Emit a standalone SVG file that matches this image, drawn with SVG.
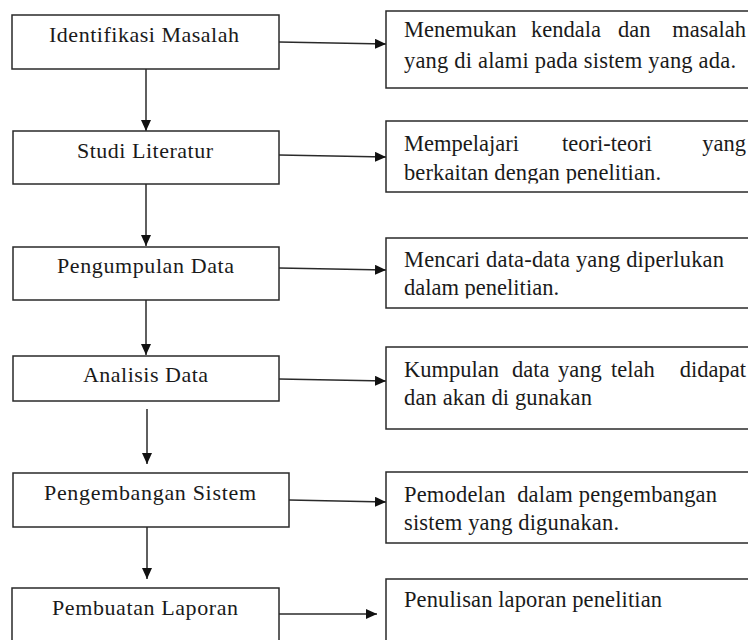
<svg xmlns="http://www.w3.org/2000/svg" width="748" height="640" viewBox="0 0 748 640">
<style>
.box{fill:#fff;stroke:#2a2a2a;stroke-width:1.5}
.ln{stroke:#2a2a2a;stroke-width:1.5;fill:none;marker-end:url(#ah)}
</style>
<defs>
<marker id="ah" markerUnits="userSpaceOnUse" markerWidth="11" markerHeight="10" refX="11" refY="5" orient="auto">
<path d="M0,0 L11,5 L0,10 z" fill="#111"/>
</marker>
<clipPath id="clip2"><rect x="386" y="121" width="362" height="62.5"/></clipPath>
<clipPath id="clip3"><rect x="386" y="238" width="362" height="60.5"/></clipPath>
</defs>
<rect width="748" height="640" fill="#fff"/>

<g id="connectors">
<line class="ln" x1="146" y1="69" x2="146" y2="131"/>
<line class="ln" x1="146" y1="184" x2="146" y2="246"/>
<line class="ln" x1="146" y1="300" x2="146" y2="355"/>
<line class="ln" x1="147" y1="409" x2="147" y2="464"/>
<line class="ln" x1="147" y1="525" x2="147" y2="579"/>
<line class="ln" x1="279" y1="42" x2="386" y2="44"/>
<line class="ln" x1="279" y1="155" x2="386" y2="157"/>
<line class="ln" x1="279" y1="268" x2="386" y2="270"/>
<line class="ln" x1="279" y1="379" x2="386" y2="381"/>
<line class="ln" x1="289" y1="500" x2="386" y2="502"/>
<line class="ln" x1="279" y1="614" x2="377" y2="614"/>
</g>

<g id="n1">
<rect class="box" x="12" y="15" width="267" height="54"/>
<text x="144" y="42" font-family="Liberation Serif" font-size="22" fill="#1a1a1a" text-anchor="middle" textLength="190" lengthAdjust="spacing">Identifikasi Masalah</text>
</g>
<g id="n2">
<rect class="box" x="13" y="131" width="266" height="53"/>
<text x="145" y="158" font-family="Liberation Serif" font-size="22" fill="#1a1a1a" text-anchor="middle" textLength="136" lengthAdjust="spacing">Studi Literatur</text>
</g>
<g id="n3">
<rect class="box" x="13" y="247" width="266" height="53"/>
<text x="145.5" y="273" font-family="Liberation Serif" font-size="22" fill="#1a1a1a" text-anchor="middle" textLength="177" lengthAdjust="spacing">Pengumpulan Data</text>
</g>
<g id="n4">
<rect class="box" x="13" y="356" width="266" height="45"/>
<text x="145.5" y="382" font-family="Liberation Serif" font-size="22" fill="#1a1a1a" text-anchor="middle" textLength="125" lengthAdjust="spacing">Analisis Data</text>
</g>
<g id="n5">
<rect class="box" x="13" y="473" width="276" height="54"/>
<text x="150" y="500" font-family="Liberation Serif" font-size="22" fill="#1a1a1a" text-anchor="middle" textLength="212" lengthAdjust="spacing">Pengembangan Sistem</text>
</g>
<g id="n6">
<rect class="box" x="12" y="588" width="267" height="70"/>
<text x="145" y="615" font-family="Liberation Serif" font-size="22" fill="#1a1a1a" text-anchor="middle" textLength="186" lengthAdjust="spacing">Pembuatan Laporan</text>
</g>

<g id="d1">
<rect class="box" x="386" y="11" width="380" height="77"/>
<text y="37" font-family="Liberation Serif" font-size="22.5" fill="#1a1a1a"><tspan x="404">Menemukan</tspan><tspan x="531">kendala</tspan><tspan x="618">dan</tspan></text>
<text x="746" y="37" font-family="Liberation Serif" font-size="22.5" fill="#1a1a1a" text-anchor="end">masalah</text>
<text x="404" y="68" font-family="Liberation Serif" font-size="22.5" fill="#1a1a1a" textLength="332" lengthAdjust="spacing">yang di alami pada sistem yang ada.</text>
</g>
<g id="d2">
<rect class="box" x="386" y="121" width="380" height="71"/>
<g clip-path="url(#clip2)">
<text y="151" font-family="Liberation Serif" font-size="22.5" fill="#1a1a1a"><tspan x="404">Mempelajari</tspan><tspan x="562">teori-teori</tspan></text>
<text x="746" y="151" font-family="Liberation Serif" font-size="22.5" fill="#1a1a1a" text-anchor="end">yang</text>
<text x="404" y="180" font-family="Liberation Serif" font-size="22.5" fill="#1a1a1a" textLength="257" lengthAdjust="spacing">berkaitan dengan penelitian.</text>
</g>
</g>
<g id="d3">
<rect class="box" x="386" y="238" width="380" height="70"/>
<g clip-path="url(#clip3)">
<text x="404" y="267" font-family="Liberation Serif" font-size="22.5" fill="#1a1a1a" textLength="320" lengthAdjust="spacing">Mencari data-data yang diperlukan</text>
<text x="404" y="295" font-family="Liberation Serif" font-size="22.5" fill="#1a1a1a" textLength="155" lengthAdjust="spacing">dalam penelitian.</text>
</g>
</g>
<g id="d4">
<rect class="box" x="386" y="347" width="380" height="82"/>
<text y="377" font-family="Liberation Serif" font-size="22.5" fill="#1a1a1a"><tspan x="404">Kumpulan</tspan><tspan x="512">data</tspan><tspan x="558">yang</tspan><tspan x="611">telah</tspan></text>
<text x="746" y="377" font-family="Liberation Serif" font-size="22.5" fill="#1a1a1a" text-anchor="end">didapat</text>
<text x="404" y="405" font-family="Liberation Serif" font-size="22.5" fill="#1a1a1a" textLength="188" lengthAdjust="spacing">dan akan di gunakan</text>
</g>
<g id="d5">
<rect class="box" x="386" y="472" width="380" height="71"/>
<text x="404" y="502" font-family="Liberation Serif" font-size="22.5" fill="#1a1a1a" xml:space="preserve" textLength="313" lengthAdjust="spacing">Pemodelan  dalam pengembangan</text>
<text x="404" y="530" font-family="Liberation Serif" font-size="22.5" fill="#1a1a1a" textLength="215" lengthAdjust="spacing">sistem yang digunakan.</text>
</g>
<g id="d6">
<rect class="box" x="386" y="579" width="380" height="80"/>
<text x="404" y="607" font-family="Liberation Serif" font-size="22.5" fill="#1a1a1a" textLength="258" lengthAdjust="spacing">Penulisan laporan penelitian</text>
</g>
</svg>
